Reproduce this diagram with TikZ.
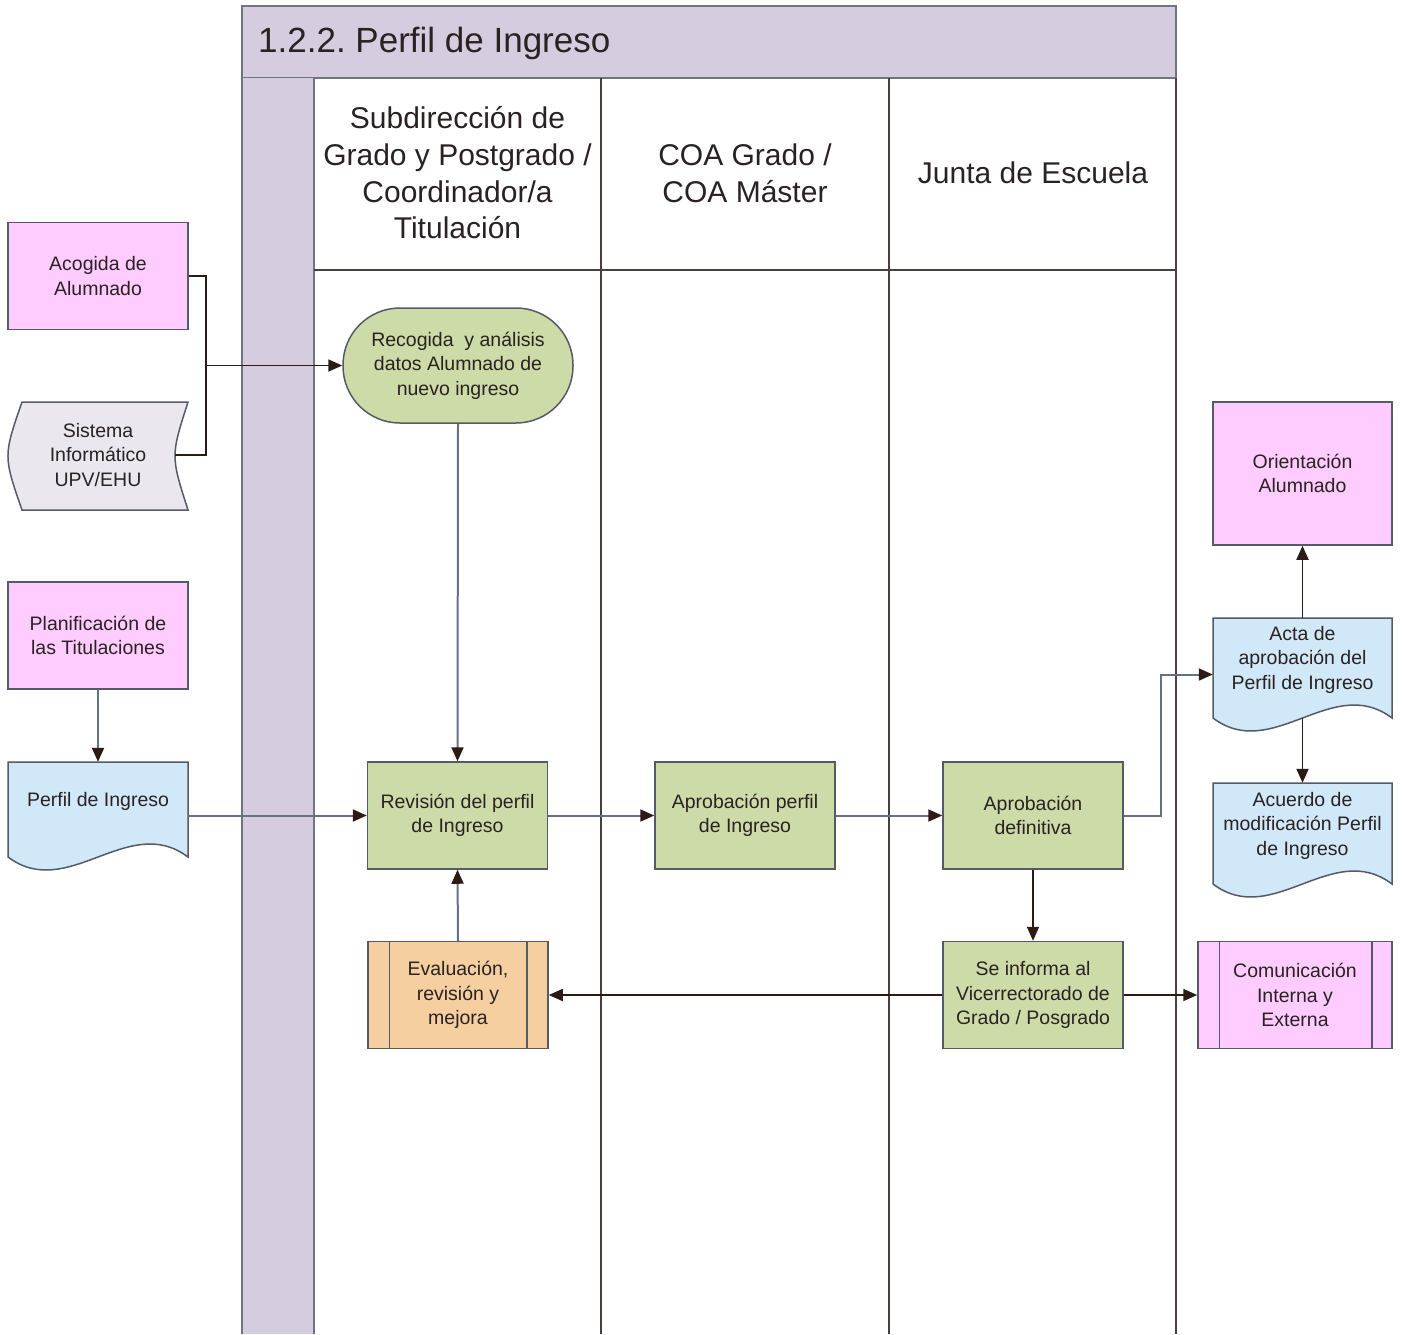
\documentclass[tikz,border=0pt]{standalone}
\usepackage{fontspec}
\setmainfont{Liberation Sans}
\usetikzlibrary{arrows.meta}
\frenchspacing
\definecolor{lav}{HTML}{D5CCE0}
\definecolor{frameC}{HTML}{6E7482}
\definecolor{laneC}{HTML}{4A3F3F}
\definecolor{pinkC}{HTML}{FFCCFF}
\definecolor{greenC}{HTML}{CCDBA8}
\definecolor{blueC}{HTML}{D0E8F8}
\definecolor{orangeC}{HTML}{F5CFA0}
\definecolor{sisC}{HTML}{EBE7EF}
\definecolor{borderC}{HTML}{555B66}
\definecolor{darkE}{HTML}{2B1A16}
\definecolor{grayE}{HTML}{667284}
\definecolor{txtC}{HTML}{2A2222}
\newcommand\mydocshape[5]{\draw[draw=borderC,line width=1.5pt,fill=#5] (#1,#2) -- (#3,#2) -- (#3,#4) .. controls ({#3-(#3-#1)/3},{#4-45}) and ({#1+(#3-#1)/3},{#4+45}) .. (#1,#4) -- cycle;}
\begin{document}
\begin{tikzpicture}[x=1pt,y=-1pt,
  box/.style={draw=borderC, line width=1.5pt, minimum width=180pt, minimum height=107pt, inner sep=0pt, align=center, text=txtC, font=\fontsize{19.5}{24.5}\selectfont},
  txt/.style={inner sep=0pt, align=center, text=txtC, font=\fontsize{19.5}{24.5}\selectfont},
  anch/.style={draw=none, fill=none, minimum width=180pt, inner sep=0pt},
  hdr/.style={inner sep=0pt, align=center, text=txtC, font=\fontsize{30}{36.7}\selectfont},
  dline/.style={draw=darkE, line width=1.8pt},
  gline/.style={draw=grayE, line width=2pt},
  arr/.style={-{Triangle[length=14pt,width=12pt,color=darkE,fill=darkE]}}
]
\useasboundingbox (0,0) rectangle (1403,1334);
% frame
\draw[fill=lav, draw=frameC, line width=1.6pt] (242,6) rectangle (1176,78);
\fill[lav] (242,78) rectangle (314,1334);
\draw[frameC, line width=1.6pt] (242,78) -- (242,1334);
\draw[frameC, line width=1.6pt] (314,78) -- (314,1334);
\draw[laneC, line width=1.6pt] (601,78) -- (601,1334);
\draw[laneC, line width=1.6pt] (889,78) -- (889,1334);
\draw[laneC, line width=1.6pt] (1176,78) -- (1176,1334);
\draw[laneC, line width=1.6pt] (314,270) -- (1176,270);
\node[anchor=west, inner sep=0pt, text=txtC, font=\fontsize{35}{40}\selectfont] (title) at (258,43) {1.2.2. Perfil de Ingreso};
\node[hdr] (h1) at (457.5,173) {Subdirección de\\Grado y Postgrado /\\Coordinador/a\\Titulación};
\node[hdr] (h2) at (745,173) {COA Grado /\\COA Máster};
\node[hdr] (h3) at (1033,173) {Junta de Escuela};

% shapes drawn directly
\draw[draw=borderC, line width=1.5pt, fill=sisC] (22,402) -- (188,402) .. controls (170.7,456) .. (188,510) -- (22,510) .. controls (3.3,456) .. (22,402) -- cycle;
\mydocshape{8}{762}{188}{857}{blueC}
\mydocshape{1213}{618}{1392}{718}{blueC}
\mydocshape{1213}{783}{1392}{884}{blueC}

% nodes
\node[box, fill=pinkC] (acog) at (98,276) {Acogida de\\Alumnado};
\node[txt] (sis) at (98,455) {Sistema\\Informático\\UPV/EHU};
\node[box, fill=pinkC] (plan) at (98,635.5) {Planificación de\\las Titulaciones};
\node[anch, minimum height=107pt] (perfil) at (98,815.5) {};
\node[txt] (perfilT) at (98,801) {Perfil de Ingreso};
\node[box, fill=greenC, minimum width=230pt, minimum height=115pt, rounded corners=57pt] (recog) at (458,365.5) {Recogida \ y análisis\\datos Alumnado de\\nuevo ingreso};
\node[box, fill=greenC] (rev) at (457.5,815.5) {Revisión del perfil\\de Ingreso};
\node[box, fill=greenC] (apr) at (745,815.5) {Aprobación perfil\\de Ingreso};
\node[box, fill=greenC] (adef) at (1033,815.5) {Aprobación\\definitiva};
\node[box, fill=greenC] (seinf) at (1033,995) {Se informa al\\Vicerrectorado de\\Grado / Posgrado};
\node[box, fill=orangeC] (eval) at (458,995) {Evaluación,\\revisión y\\mejora};
\draw[borderC, line width=1.5pt] ([xshift=22pt]eval.north west) -- ([xshift=22pt]eval.south west);
\draw[borderC, line width=1.5pt] ([xshift=-22pt]eval.north east) -- ([xshift=-22pt]eval.south east);
\node[box, fill=pinkC, minimum width=179pt, minimum height=143pt] (orient) at (1302.5,473.5) {Orientación\\Alumnado};
\node[anch, minimum width=179pt, minimum height=113pt] (acta) at (1302.5,674.5) {};
\node[txt] (actaT) at (1302.5,659.5) {Acta de\\aprobación del\\Perfil de Ingreso};
\node[anch, minimum width=179pt, minimum height=114pt] (acu) at (1302.5,840) {};
\node[txt] (acuT) at (1302.5,825.5) {Acuerdo de\\modificación Perfil\\de Ingreso};
\node[box, fill=pinkC, minimum width=194pt] (com) at (1295,995) {Comunicación\\Interna y\\Externa};
\draw[borderC, line width=1.5pt] ([xshift=22pt]com.north west) -- ([xshift=22pt]com.south west);
\draw[borderC, line width=1.5pt] ([xshift=-21pt]com.north east) -- ([xshift=-21pt]com.south east);

% connectors
\coordinate (jn) at (206,365.5);
\coordinate (sisR) at (175,455);
\coordinate (actaB) at (1302.5,718);
\draw[dline] (acog.east) -| (jn);
\draw[dline] (sisR) -| (jn);
\draw[dline, arr] (jn) -- (recog.west);
\draw[gline, arr] (plan.south) -- (perfil.north);
\draw[gline, arr] (perfil.east) -- (rev.west);
\draw[gline, arr] (recog.south) -- (rev.north);
\draw[gline, arr] (rev.east) -- (apr.west);
\draw[gline, arr] (apr.east) -- (adef.west);
\draw[gline, arr] (eval.north) -- (rev.south);
\draw[dline, arr] (adef.south) -- (seinf.north);
\draw[dline, arr] (seinf.west) -- (eval.east);
\draw[dline, arr] (seinf.east) -- (com.west);
\draw[gline, arr] (adef.east) -- ++(37,0) |- (acta.west);
\draw[dline, arr] (acta.north) -- (orient.south);
\draw[dline, arr] (actaB) -- (acu.north);
\end{tikzpicture}
\end{document}
